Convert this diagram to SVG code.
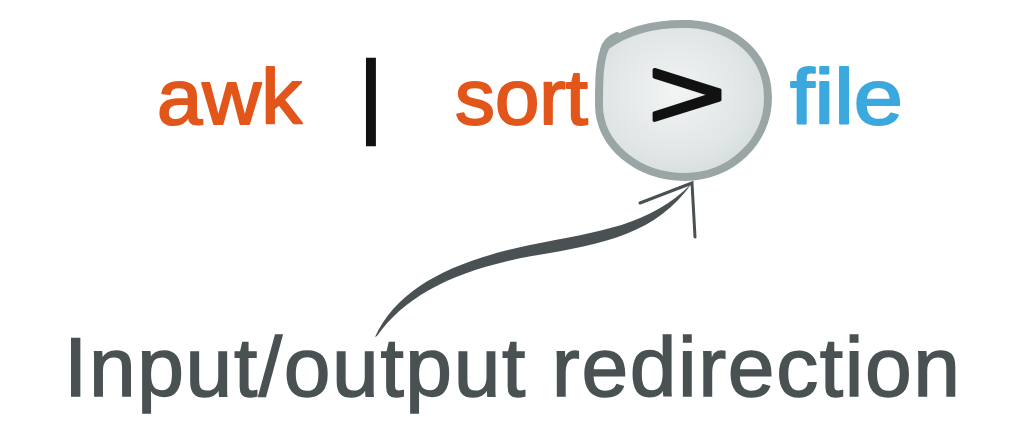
<svg xmlns="http://www.w3.org/2000/svg" width="1024" height="434" viewBox="0 0 1024 434">
  <style>
    .cmd { font-family: "Liberation Sans", Arial, sans-serif; font-size: 78px; stroke-width: 2; stroke-linejoin: round; }
    .orange { fill: #e2561b; stroke: #e2561b; }
    .blue { fill: #3ba8de; stroke: #3ba8de; }
    .label { font-family: "Liberation Sans", Arial, sans-serif; font-size: 84px; fill: #495152; stroke: #495152; stroke-width: 1.5; }
    .conn { fill: #495152; }
    .head { fill: none; stroke: #495152; stroke-width: 3; stroke-linecap: round; }
  </style>
  <defs>
    <radialGradient id="bubble" cx="0.45" cy="0.45" r="0.6">
      <stop offset="0" stop-color="#f2f4f4"/>
      <stop offset="0.7" stop-color="#e0e5e5"/>
      <stop offset="1" stop-color="#d5dbdb"/>
    </radialGradient>
  </defs>
  <rect width="1024" height="434" fill="#ffffff"/>

  <g id="awk">
    <text class="cmd orange" x="157" y="124" textLength="145" lengthAdjust="spacingAndGlyphs">awk</text>
  </g>
  <g id="pipe">
    <text x="359" y="126" font-family="Liberation Sans, Arial, sans-serif" font-size="92" fill="#111111" stroke="#111111" stroke-width="2.5">|</text>
  </g>
  <g id="sort">
    <text class="cmd orange" x="455" y="124" textLength="133" lengthAdjust="spacingAndGlyphs">sort</text>
  </g>
  <g id="redirect">
    <path d="M606,46 C630,28 660,23 690,24 C736,27 768,56 768,98 C768,142 730,177 685,177 C638,177 599,145 599,105 C599,80 599,60 606,46 Z" fill="url(#bubble)" stroke="#9aa6a6" stroke-width="8" stroke-linejoin="round"/>
    <path d="M603,50 C605,42 609,38 617,35" fill="none" stroke="#9aa6a6" stroke-width="6" stroke-linecap="round"/>
    <text x="648" y="128" font-family="Liberation Sans, Arial, sans-serif" font-size="100" fill="#111111" stroke="#111111" stroke-width="3" stroke-linejoin="round" textLength="78" lengthAdjust="spacingAndGlyphs">&gt;</text>
  </g>
  <g id="file">
    <text class="cmd blue" x="790" y="124" textLength="113" lengthAdjust="spacingAndGlyphs">file</text>
  </g>

  <g id="connectors">
    <path class="conn" d="M375,337 C398,288 450,262 530,245 C600,231 650,226 692,183 C657,233 606,244 532,256 C455,270 405,296 377,336 Z"/>
    <path class="head" d="M640,203 L692,183 L695,237"/>
  </g>

  <g id="caption">
    <text class="label" x="64" y="396" textLength="896" lengthAdjust="spacing">Input/output redirection</text>
  </g>
</svg>
